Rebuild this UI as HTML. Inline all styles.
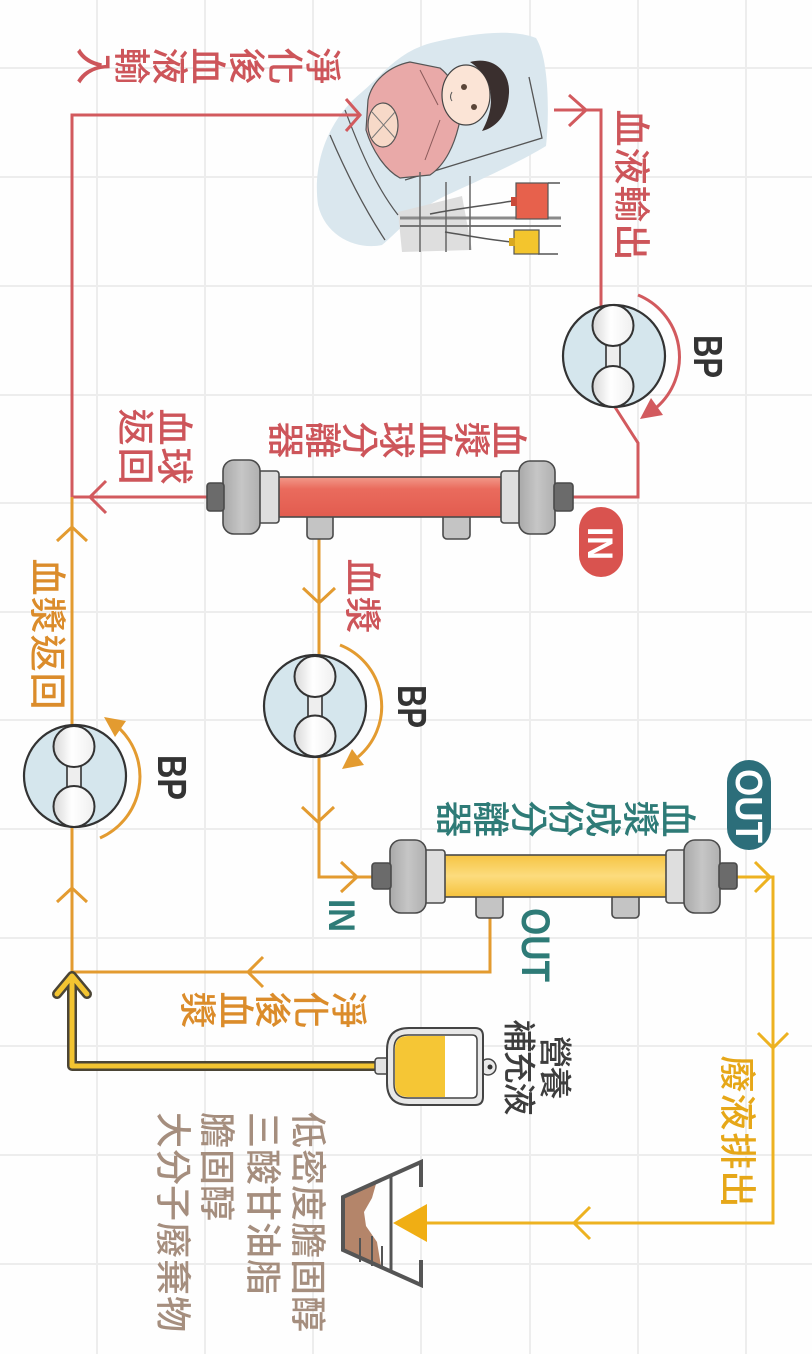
<!DOCTYPE html>
<html><head><meta charset="utf-8">
<style>
html,body{margin:0;padding:0;background:#fff;}
svg{display:block}
.c{font-family:"Liberation Sans","Noto Sans CJK TC",sans-serif;font-size:37px;text-anchor:middle;dominant-baseline:central;font-weight:500}
.r{fill:#cd555a}.o{fill:#db8c2b}.t{fill:#2e7b77}.g{fill:#e6a718}.k{fill:#3d3d3d;font-size:33px}.b{fill:#a58e7e;font-size:36px}
.L{font-family:"Liberation Sans",sans-serif;font-weight:700}
</style></head><body>
<svg width="812" height="1354" viewBox="0 0 812 1354" xmlns="http://www.w3.org/2000/svg">
<defs>
<linearGradient id="roll" x1="0" x2="1" y1="0" y2="0"><stop offset="0" stop-color="#d8d8d8"/><stop offset="0.45" stop-color="#ffffff"/><stop offset="1" stop-color="#efefef"/></linearGradient>
<linearGradient id="redt" x1="0" y1="0" x2="0" y2="1"><stop offset="0" stop-color="#f29a8a"/><stop offset="0.3" stop-color="#ea6b5d"/><stop offset="1" stop-color="#e25c4f"/></linearGradient>
<linearGradient id="yelt" x1="0" y1="0" x2="0" y2="1"><stop offset="0" stop-color="#f6c443"/><stop offset="0.5" stop-color="#fcdc7e"/><stop offset="1" stop-color="#f5c23c"/></linearGradient>
<linearGradient id="nut" x1="0" y1="0" x2="1" y2="0"><stop offset="0" stop-color="#a9a9a9"/><stop offset="0.5" stop-color="#c6c6c6"/><stop offset="1" stop-color="#b0b0b0"/></linearGradient>
</defs>
<rect width="812" height="1354" fill="#fefefe"/>
<g stroke="#ededed" stroke-width="2">
<line x1="97" y1="0" x2="97" y2="1354"/><line x1="205" y1="0" x2="205" y2="1354"/><line x1="313" y1="0" x2="313" y2="1354"/><line x1="421" y1="0" x2="421" y2="1354"/><line x1="530" y1="0" x2="530" y2="1354"/><line x1="638" y1="0" x2="638" y2="1354"/><line x1="746" y1="0" x2="746" y2="1354"/>
<line x1="0" y1="68" x2="812" y2="68"/><line x1="0" y1="177" x2="812" y2="177"/><line x1="0" y1="286" x2="812" y2="286"/><line x1="0" y1="395" x2="812" y2="395"/><line x1="0" y1="503" x2="812" y2="503"/><line x1="0" y1="612" x2="812" y2="612"/><line x1="0" y1="720" x2="812" y2="720"/><line x1="0" y1="829" x2="812" y2="829"/><line x1="0" y1="938" x2="812" y2="938"/><line x1="0" y1="1046" x2="812" y2="1046"/><line x1="0" y1="1155" x2="812" y2="1155"/><line x1="0" y1="1264" x2="812" y2="1264"/>
</g>

<!-- patient illustration -->
<g>
<path d="M318 205 C312 160 330 118 362 92 C385 72 400 50 435 42 C470 34 510 28 536 38 C550 60 549 120 546 146 C520 162 480 180 445 196 C415 210 398 232 382 245 C358 250 326 238 318 205Z" fill="#dae7ee"/>
<path d="M398 212 L462 196 L472 250 L402 252Z" fill="#dedede"/>
<path d="M330 135 C345 170 362 205 385 240" fill="none" stroke="#555" stroke-width="1.3"/>
<path d="M345 110 C360 150 375 185 398 215" fill="none" stroke="#555" stroke-width="1.2"/>
<path d="M529 77 L542 138 L405 180" fill="none" stroke="#555" stroke-width="1.3"/>
<path d="M368 100 C372 80 390 66 410 62 L440 68 C455 80 462 100 460 120 C455 145 445 165 430 175 L400 178 C385 170 372 150 366 130 Z" fill="#e9a9a8" stroke="#555" stroke-width="1.2"/>
<path d="M420 70 L438 105 M440 120 L425 160" stroke="#8a5a5a" stroke-width="1" fill="none"/>
<ellipse cx="383" cy="125" rx="15" ry="22" fill="#f7d9c8" stroke="#555" stroke-width="1.2"/>
<path d="M372 112 L395 138 M372 138 L395 112" stroke="#777" stroke-width="1"/>
<ellipse cx="466" cy="95" rx="24" ry="30" fill="#fbe4d6" stroke="#444" stroke-width="1.2"/>
<path d="M470 62 C492 56 510 70 509 93 C508 113 498 127 482 131 C491 115 493 100 489 85 C485 75 479 68 470 62Z" fill="#3a2f2e"/>
<circle cx="464" cy="87" r="3" fill="#5a4538"/><circle cx="474" cy="107" r="3" fill="#5a4538"/>
<path d="M452 92 Q449 97 452 101" fill="none" stroke="#555" stroke-width="1"/>
<line x1="400" y1="218" x2="561" y2="218" stroke="#8a8a8a" stroke-width="3"/>
<line x1="400" y1="226" x2="561" y2="226" stroke="#777" stroke-width="2"/>
<line x1="420" y1="172" x2="420" y2="252" stroke="#666" stroke-width="1.5"/>
<line x1="446" y1="182" x2="446" y2="252" stroke="#666" stroke-width="1.5"/>
<line x1="470" y1="176" x2="470" y2="250" stroke="#666" stroke-width="1.5"/>
<line x1="548" y1="183" x2="560" y2="183" stroke="#555" stroke-width="1.5"/>
<line x1="538" y1="254" x2="558" y2="254" stroke="#555" stroke-width="1.5"/>
<path d="M512 201 C490 205 460 208 430 214" fill="none" stroke="#555" stroke-width="1.5"/>
<path d="M512 242 C490 240 470 236 445 232" fill="none" stroke="#555" stroke-width="1.5"/>
<rect x="516" y="183" width="32" height="36" fill="#e7614c" stroke="#555" stroke-width="1.2"/>
<rect x="511" y="197" width="6" height="9" fill="#c94a3a"/>
<rect x="514" y="230" width="25" height="24" fill="#f3c52d" stroke="#555" stroke-width="1.2"/>
<rect x="509" y="238" width="6" height="8" fill="#d9a81f"/>
</g>

<!-- red connectors -->
<g fill="none" stroke="#d25a5e" stroke-width="3" stroke-linejoin="miter">
<path d="M360 115 L72 115 L72 497"/>
<path d="M346 99 L360 115 L346 131"/>
<path d="M554 110 L601 110 L601 310"/>
<path d="M569 95 L586 110 L569 126"/>
<path d="M613 404 L638 443 L638 497 L573 497"/>
<path d="M207 497 L72 497"/>
<path d="M106 481 L90 497 L106 513"/>
<path d="M638 295 A67 67 0 0 1 657 407"/>
</g>
<polygon points="640,419 663,415 651,398" fill="#d25a5e"/>

<!-- orange connectors -->
<g fill="none" stroke="#e39b30" stroke-width="3">
<path d="M72 497 L72 730"/>
<path d="M57 541 L72 527 L87 541"/>
<path d="M72 825 L72 972 L490 972 L490 915"/>
<path d="M57 902 L72 888 L87 902"/>
<path d="M263 957 L248 972 L263 987"/>
<path d="M319 538 L319 660"/>
<path d="M303 588 L319 603 L335 588"/>
<path d="M319 752 L319 877 L374 877"/>
<path d="M302 807 L318 822 L334 807"/>
<path d="M341 862 L357 877 L341 892"/>
<path d="M100 838 A67 67 0 0 0 120 729"/>
<path d="M340 645 A66 66 0 0 1 358 757"/>
</g>
<polygon points="104,717 126,721 115,737" fill="#e39b30"/>
<polygon points="342,769 364,765 352,749" fill="#e39b30"/>

<!-- gold waste line -->
<g fill="none" stroke="#edb221" stroke-width="3">
<path d="M735 877 L773 877 L773 1223 L425 1223"/>
<path d="M755 862 L770 877 L755 892"/>
<path d="M758 1033 L773 1048 L788 1033"/>
<path d="M590 1207 L574 1223 L590 1239"/>
</g>
<polygon points="393,1223 427,1204 427,1242" fill="#f0ae14"/>

<!-- yellow nutrient line -->
<g fill="none" stroke-linejoin="round" stroke-linecap="round">
<path d="M378 1066 L72 1066 L72 980" stroke="#4b4535" stroke-width="10"/>
<path d="M57 994 L72 976 L87 994" stroke="#4b4535" stroke-width="10"/>
<path d="M378 1066 L72 1066 L72 980" stroke="#f3c431" stroke-width="5"/>
<path d="M57 994 L72 976 L87 994" stroke="#f3c431" stroke-width="5"/>
</g>

<!-- pumps -->
<g stroke="#333">
<circle cx="614" cy="356" r="51" fill="#d5e6ed" stroke-width="2.2"/>
<rect x="606" y="342" width="14" height="28" fill="#eeeeee" stroke-width="1.6"/>
<circle cx="613" cy="325.5" r="20.5" fill="url(#roll)" stroke-width="2"/>
<circle cx="613" cy="386.5" r="20.5" fill="url(#roll)" stroke-width="2"/>

<circle cx="75" cy="776" r="51" fill="#d5e6ed" stroke-width="2.2"/>
<rect x="67" y="763" width="14" height="28" fill="#eeeeee" stroke-width="1.6"/>
<circle cx="74" cy="746.5" r="20.5" fill="url(#roll)" stroke-width="2"/>
<circle cx="74" cy="806.5" r="20.5" fill="url(#roll)" stroke-width="2"/>

<circle cx="315" cy="706" r="51" fill="#d5e6ed" stroke-width="2.2"/>
<rect x="308" y="692" width="14" height="28" fill="#eeeeee" stroke-width="1.6"/>
<circle cx="315" cy="676.5" r="20.5" fill="url(#roll)" stroke-width="2"/>
<circle cx="315" cy="736" r="20.5" fill="url(#roll)" stroke-width="2"/>
</g>

<!-- red filter -->
<g stroke="#4a4a4a" stroke-width="1.6">
<rect x="307" y="512" width="26" height="27" rx="4" fill="#c4c4c4"/>
<rect x="443" y="512" width="27" height="27" rx="4" fill="#c4c4c4"/>
<rect x="277" y="477" width="226" height="40" fill="url(#redt)"/>
<rect x="257" y="471" width="22" height="52" rx="3" fill="#dedede"/>
<rect x="223" y="460" width="37" height="74" rx="11" fill="url(#nut)"/>
<rect x="207" y="483" width="17" height="28" rx="3" fill="#6b6b6b"/>
<rect x="501" y="471" width="21" height="52" rx="3" fill="#dedede"/>
<rect x="519" y="461" width="36" height="73" rx="11" fill="url(#nut)"/>
<rect x="554" y="483" width="19" height="28" rx="3" fill="#6b6b6b"/>
</g>

<!-- yellow filter -->
<g stroke="#4a4a4a" stroke-width="1.6">
<rect x="476" y="892" width="27" height="26" rx="4" fill="#c4c4c4"/>
<rect x="612" y="892" width="27" height="26" rx="4" fill="#c4c4c4"/>
<rect x="443" y="855" width="225" height="42" fill="url(#yelt)"/>
<rect x="422" y="850" width="23" height="53" rx="3" fill="#dedede"/>
<rect x="390" y="840" width="36" height="73" rx="11" fill="url(#nut)"/>
<rect x="372" y="863" width="19" height="26" rx="3" fill="#6b6b6b"/>
<rect x="666" y="850" width="23" height="53" rx="3" fill="#dedede"/>
<rect x="684" y="840" width="36" height="73" rx="11" fill="url(#nut)"/>
<rect x="719" y="863" width="18" height="26" rx="3" fill="#6b6b6b"/>
</g>

<!-- nutrient bag -->
<g stroke="#444">
<rect x="375" y="1058" width="20" height="16" rx="3" fill="#e3e3e3" stroke-width="1.5"/>
<circle cx="488" cy="1067" r="8" fill="#e9e9e9" stroke-width="1.5"/>
<path d="M409 1028 L475 1028 Q483 1028 483 1036 L483 1097 Q483 1105 475 1105 L409 1105 Q387 1105 387 1083 L387 1050 Q387 1028 409 1028Z" fill="#e8e8e8" stroke-width="2"/>
<path d="M408 1035 L472 1035 Q477 1035 477 1040 L477 1093 Q477 1098 472 1098 L408 1098 Q394 1098 394 1084 L394 1049 Q394 1035 408 1035Z" fill="#ffffff" stroke-width="1.5"/>
<path d="M408 1036 L445 1036 L445 1097 L408 1097 Q395 1097 395 1084 L395 1049 Q395 1036 408 1036Z" fill="#f5c635" stroke="none"/>
<circle cx="490" cy="1067" r="2.5" fill="#333" stroke="none"/>
</g>

<!-- waste container -->
<path d="M345 1197 L376 1184 L372 1198 L364 1212 L366 1226 L377 1242 L381 1266 L345 1252Z" fill="#b4856a"/>
<g stroke="#555" fill="none">
<path d="M421 1187 L421 1162 L343 1197 L343 1250 L421 1285 L421 1260" stroke-width="4" stroke-linejoin="miter"/>
<line x1="391" y1="1176" x2="391" y2="1272" stroke-width="3"/>
<line x1="360" y1="1238" x2="360" y2="1262" stroke-width="2"/>
<line x1="372" y1="1236" x2="372" y2="1266" stroke-width="2"/>
<line x1="382" y1="1246" x2="382" y2="1268" stroke-width="2"/>
</g>

<!-- pills -->
<rect x="579" y="507" width="44" height="70" rx="22" fill="#d9534f"/>
<rect x="727" y="760" width="44" height="90" rx="22" fill="#2c6e7a"/>

<!-- rotated text layer -->
<g transform="translate(812 0) rotate(90)">
<text class="c r" x="66" y="490">淨</text><text class="c r" x="66" y="528">化</text><text class="c r" x="66" y="566">後</text><text class="c r" x="66" y="605">血</text><text class="c r" x="66" y="643">液</text><text class="c r" x="66" y="681">輸</text><text class="c r" x="66" y="719">入</text>

<text class="c r" x="128" y="181">血</text><text class="c r" x="166" y="181">液</text><text class="c r" x="204" y="181">輸</text><text class="c r" x="242" y="181">出</text>

<text class="c r" x="440" y="304">血</text><text class="c r" x="440" y="341">漿</text><text class="c r" x="440" y="378">血</text><text class="c r" x="440" y="416">球</text><text class="c r" x="440" y="453">分</text><text class="c r" x="440" y="490">離</text><text class="c r" x="440" y="527">器</text>

<text class="c r" x="427" y="638">血</text><text class="c r" x="466" y="638">球</text>
<text class="c r" x="427" y="677">返</text><text class="c r" x="466" y="677">回</text>

<text class="c r" x="577" y="450">血</text><text class="c r" x="615" y="450">漿</text>

<text class="c o" x="577" y="765">血</text><text class="c o" x="615" y="765">漿</text><text class="c o" x="653" y="765">返</text><text class="c o" x="691" y="765">回</text>

<text class="c t" x="819" y="135">血</text><text class="c t" x="819" y="172">漿</text><text class="c t" x="819" y="210">成</text><text class="c t" x="819" y="247">份</text><text class="c t" x="819" y="284">分</text><text class="c t" x="819" y="322">離</text><text class="c t" x="819" y="359">器</text>

<text class="c g" x="1074" y="75">廢</text><text class="c g" x="1112" y="75">液</text><text class="c g" x="1151" y="75">排</text><text class="c g" x="1189" y="75">出</text>

<text class="c k" x="1052" y="257">營</text><text class="c k" x="1083" y="257">養</text>
<text class="c k" x="1036" y="293">補</text><text class="c k" x="1067" y="293">充</text><text class="c k" x="1099" y="293">液</text>

<text class="c o" x="1010" y="464">淨</text><text class="c o" x="1010" y="502">化</text><text class="c o" x="1010" y="540">後</text><text class="c o" x="1010" y="577">血</text><text class="c o" x="1010" y="615">漿</text>

<text class="c b" x="1130" y="504">低</text><text class="c b" x="1167" y="504">密</text><text class="c b" x="1203" y="504">度</text><text class="c b" x="1240" y="504">膽</text><text class="c b" x="1277" y="504">固</text><text class="c b" x="1314" y="504">醇</text>
<text class="c b" x="1130" y="549">三</text><text class="c b" x="1167" y="549">酸</text><text class="c b" x="1203" y="549">甘</text><text class="c b" x="1240" y="549">油</text><text class="c b" x="1277" y="549">脂</text>
<text class="c b" x="1130" y="595">膽</text><text class="c b" x="1167" y="595">固</text><text class="c b" x="1203" y="595">醇</text>
<text class="c b" x="1130" y="639">大</text><text class="c b" x="1167" y="639">分</text><text class="c b" x="1203" y="639">子</text><text class="c b" x="1240" y="639">廢</text><text class="c b" x="1277" y="639">棄</text><text class="c b" x="1314" y="639">物</text>

<text class="L" x="335" y="118" font-size="41" fill="#333" textLength="43" lengthAdjust="spacingAndGlyphs">BP</text>
<text class="L" x="685" y="414" font-size="41" fill="#333" textLength="43" lengthAdjust="spacingAndGlyphs">BP</text>
<text class="L" x="755" y="654" font-size="41" fill="#333" textLength="45" lengthAdjust="spacingAndGlyphs">BP</text>
<text class="L" x="527" y="224" font-size="35" fill="#ffffff" textLength="33" lengthAdjust="spacingAndGlyphs">IN</text>
<text class="L" x="769" y="76" font-size="38" fill="#ffffff" textLength="74" lengthAdjust="spacingAndGlyphs">OUT</text>
<text class="L" x="899" y="483" font-size="37" fill="#2e7b77" textLength="33" lengthAdjust="spacingAndGlyphs">IN</text>
<text class="L" x="908" y="290" font-size="40" fill="#2e7b77" textLength="74" lengthAdjust="spacingAndGlyphs">OUT</text>
</g>
</svg>
</body></html>
